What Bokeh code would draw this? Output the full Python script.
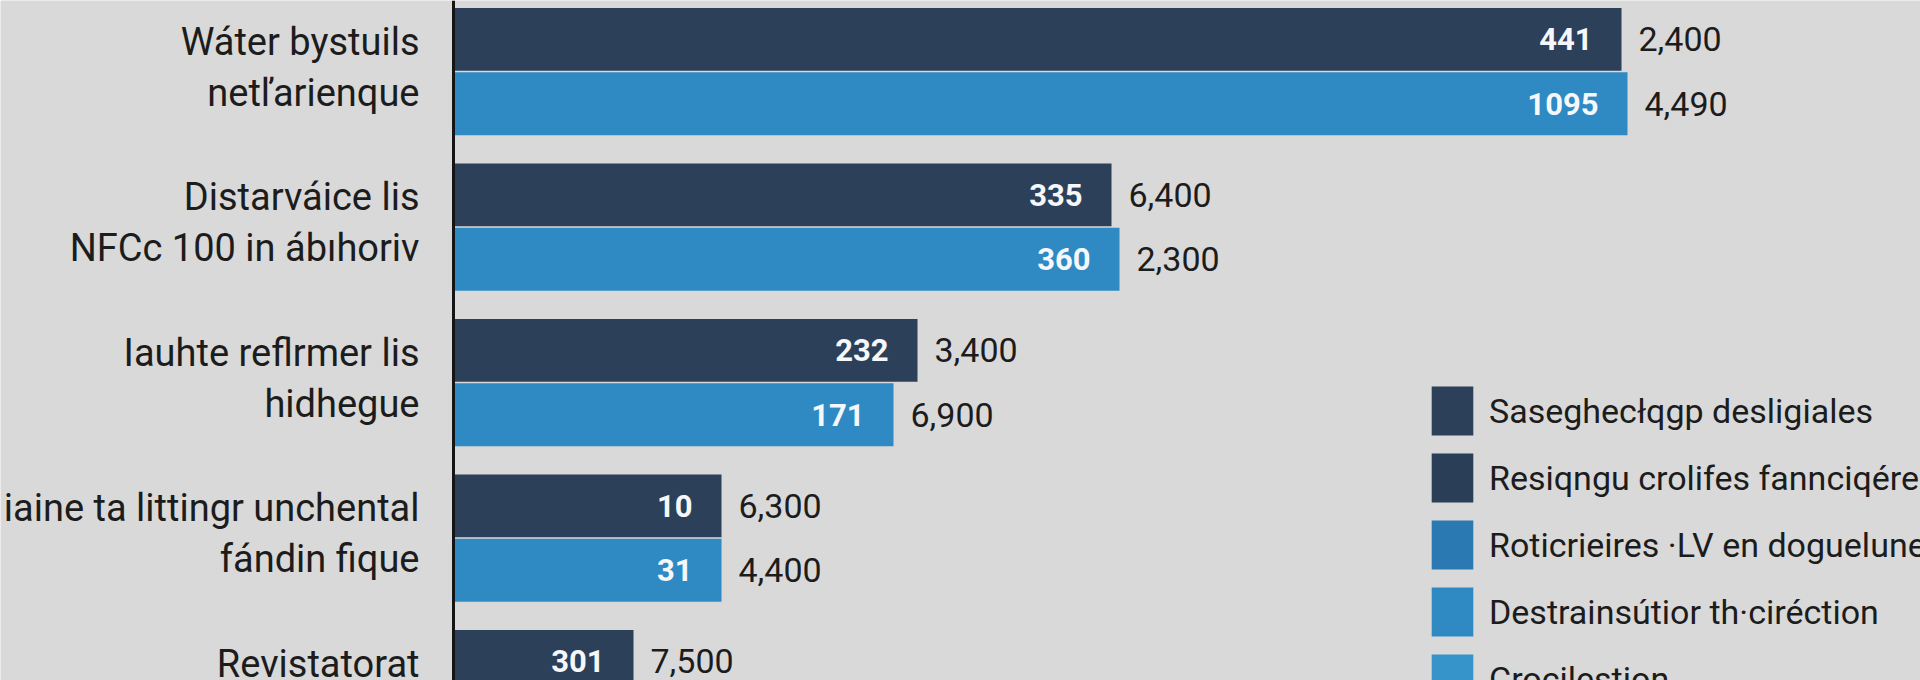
from bokeh.plotting import figure
from bokeh.models import Range1d, ColumnDataSource, Legend, LegendItem, Span
from bokeh.transform import dodge
from bokeh.embed import file_html
from bokeh.resources import INLINE
from bokeh.core.properties import value

# ---- data ----
cat_line1 = ["Wáter bystuils", "Distarváice lis", "Iauhte reflrmer lis",
             "iaine ta littingr unchental", "Revistatorat"]
cat_line2 = ["netľarienque", "NFCc 100 in ábıhoriv", "hidhegue", "fándin fique"]
dark_len = [1168, 658, 464, 268, 180]
light_len = [1174, 666, 440, 268]
dark_inner = ["441", "335", "232", "10", "301"]
light_inner = ["1095", "360", "171", "31"]
dark_outer = ["2,400", "6,400", "3,400", "6,300", "7,500"]
light_outer = ["4,490", "2,300", "6,900", "4,400"]
legend_labels = [
    "Saseghecłqgp desligiales",
    "Resiqngu crolifes fannciqére",
    "Roticrieires ·LV en doguelune",
    "Destrainsútior th·ciréction",
    "Crocilestion",
]

# ---- styles ----
DARK = "#2c405a"
LIGHT = "#2f8ac3"
LEG_COLORS = [DARK, "#2b3e58", "#2a79b3", LIGHT, "#3794cb"]
BG = "#d9d9d9"
TXT = "#1c1c1c"
FONT = "Roboto"

ypos = list(range(len(cat_line1)))
dark_src = ColumnDataSource(dict(y=ypos, v=dark_len, inner=dark_inner, outer=dark_outer))
light_src = ColumnDataSource(dict(y=ypos[:len(light_len)], v=light_len,
                                  inner=light_inner, outer=light_outer))
l1_src = ColumnDataSource(dict(y=ypos, t=cat_line1))
l2_src = ColumnDataSource(dict(y=ypos[:len(cat_line2)], t=cat_line2))

p = figure(width=1920, height=680, output_backend="svg", toolbar_location=None,
           x_range=Range1d(-453, 1467), y_range=Range1d(3.916, -0.457),
           x_axis_location=None, y_axis_location=None,
           min_border_left=0, min_border_right=0, min_border_top=0, min_border_bottom=0)
p.background_fill_color = BG
p.border_fill_color = BG
p.outline_line_color = None
p.grid.visible = False

BH = 0.405
OFF = 0.207
r_dark = p.hbar(y=dodge("y", -OFF), right="v", left=0, height=BH, source=dark_src,
                fill_color=DARK, line_color=None)
r_light = p.hbar(y=dodge("y", OFF), right="v", left=0, height=BH, source=light_src,
                 fill_color=LIGHT, line_color=None)

# value axis baseline (the vertical axis line)
p.add_layout(Span(location=0, dimension="height", line_color="#151515", line_width=3))

for src, off in ((dark_src, -OFF), (light_src, OFF)):
    p.text(x="v", y=dodge("y", off), text="inner", source=src, x_offset=-29,
           text_align="right", text_baseline="middle", text_color="#f5f7fa",
           text_font=value(FONT), text_font_style="bold", text_font_size="31px")
    p.text(x="v", y=dodge("y", off), text="outer", source=src, x_offset=17,
           text_align="left", text_baseline="middle", text_color=TXT,
           text_font=value(FONT), text_font_size="34px")

# category labels, two lines each, right-aligned against the axis
for src, yoff in ((l1_src, -30), (l2_src, 21)):
    p.text(x=0, y="y", text="t", source=src, x_offset=-34, y_offset=yoff,
           text_align="right", text_baseline="middle", text_color=TXT,
           text_font=value(FONT), text_font_size="38px")

# legend swatches (extra entries carry zero-length bars)
renderers = []
for i, c in enumerate(LEG_COLORS):
    if i == 0:
        renderers.append(r_dark)
    elif i == 3:
        renderers.append(r_light)
    else:
        dummy = ColumnDataSource(dict(y=[0], v=[0]))
        renderers.append(p.hbar(y="y", right="v", left="v", height=BH, source=dummy,
                                fill_color=c, line_color=None))

legend = Legend(items=[LegendItem(label=l, renderers=[r]) for l, r in zip(legend_labels, renderers)],
                location=(1426, -29), padding=0, margin=0, spacing=6,
                glyph_width=52, glyph_height=61, label_standoff=11,
                label_text_font=FONT, label_text_font_size="34px", label_text_color=TXT,
                background_fill_alpha=0, border_line_alpha=0)
p.add_layout(legend)

open("out.html", "w").write(file_html(p, INLINE))
